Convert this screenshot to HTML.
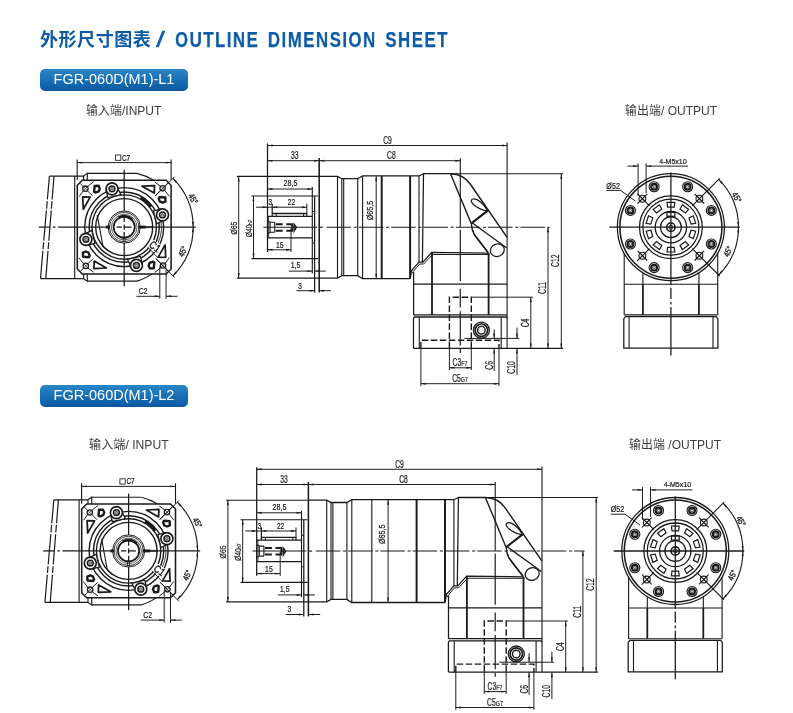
<!DOCTYPE html>
<html lang="zh"><head><meta charset="utf-8"><title>外形尺寸图表 / OUTLINE DIMENSION SHEET</title>
<style>
html,body{margin:0;padding:0;background:#fff}
body{width:793px;height:713px;position:relative;overflow:hidden;font-family:"Liberation Sans","Noto Sans CJK SC",sans-serif}
.title{position:absolute;left:0;top:0;margin:0;font-weight:bold;color:#0b5aa4;white-space:nowrap;font-size:18px;line-height:24px}
.title span{position:absolute;top:27px;white-space:nowrap}
.title .cn{left:40px;top:27.5px;font-size:18px;letter-spacing:0.55px}
.title .sl{left:155.6px;font-size:22.1px;top:27.9px;transform-origin:0 50%;transform:scaleX(1.45);font-weight:normal;-webkit-text-stroke:0.3px #0b5aa4}
.title .en{left:175.1px;top:27.8px;font-size:22.1px;letter-spacing:2.0px;word-spacing:3.2px;transform-origin:0 50%;transform:scaleX(0.76);-webkit-text-stroke:0.25px #0b5aa4}
.badge{position:absolute;left:39.6px;width:148px;height:21.6px;border-radius:5px;background:linear-gradient(#2a86c6,#1f79bb 30%,#0c5da6 90%,#0a5596);color:#fff;font-size:14.5px;line-height:21.4px;text-align:center}
.lbl,.title span,.badge{will-change:transform}
.lbl{position:absolute;font-size:12px;line-height:14px;color:#3c3c3c;white-space:nowrap}
</style></head><body>
<h1 class="title"><span class="cn">外形尺寸图表</span><span class="sl">/</span><span class="en">OUTLINE DIMENSION SHEET</span></h1>
<div class="badge" style="top:69.4px">FGR-060D(M1)-L1</div>
<div class="badge" style="top:384.6px">FGR-060D(M1)-L2</div>
<div class="lbl" style="left:86px;top:104px">输入端/INPUT</div>
<div class="lbl" style="left:624.5px;top:104px">输出端/ OUTPUT</div>
<div class="lbl" style="left:88.8px;top:437.8px;font-size:12.15px">输入端/ INPUT</div>
<div class="lbl" style="left:629px;top:437.6px">输出端 /OUTPUT</div>
<svg width="793" height="713" viewBox="0 0 793 713" style="position:absolute;left:0;top:0;will-change:transform" fill="none" stroke="#1a1a1a" font-family="'Liberation Sans', sans-serif">
<g><line x1="49.4" y1="176.1" x2="83.6" y2="176.1" stroke-width="1.12"/><line x1="40.5" y1="278.6" x2="83.6" y2="278.6" stroke-width="1.12"/><line x1="74.7" y1="176" x2="74.7" y2="278.5" stroke-width="1.12"/><line x1="49.4" y1="176.1" x2="40.5" y2="278.6" stroke-width="1.19" stroke-dasharray="23.4 1.7 7.6 1.7 30.4 1.7 6.8 1.7 40"/><line x1="54" y1="176.1" x2="45.8" y2="278.6" stroke-width="1.19" stroke-dasharray="23.4 1.7 7.6 1.7 30.4 1.7 6.8 1.7 40"/><line x1="87.3" y1="173.4" x2="136.98" y2="173.4" stroke-width="1.12"/><path d="M136.98,173.4 A55.2,55.2 0 0 1 153.47,180.3" stroke-width="1.12" fill="none"/><line x1="87.3" y1="281.1" x2="136.98" y2="281.1" stroke-width="1.12"/><path d="M136.98,281.1 A55.2,55.2 0 0 0 156.47,270.6" stroke-width="1.12" fill="none"/><path d="M83.6,180.2 L83.6,176.1 L87.3,173.4 L87.3,180.2" stroke-width="1.12" fill="none"/><path d="M83.6,274.2 L83.6,278.6 L87.3,281.1 L87.3,274.2" stroke-width="1.12" fill="none"/><path d="M82.3,180.2 L166.1,180.2 L171.1,185.2 L171.1,269 L166.1,274 L82.3,274 L77.3,269 L77.3,185.2 Z" stroke-width="1.54" fill="#fff"/><circle cx="124.2" cy="227.1" r="39.5" stroke-width="1.4" fill="none"/><circle cx="124.2" cy="227.1" r="35.1" stroke-width="1.4" fill="none"/><circle cx="124.2" cy="227.1" r="32.2" stroke-width="1.4" fill="none"/><circle cx="124.2" cy="227.1" r="28.5" stroke-width="1.4" fill="none"/><path d="M140.54,197.63 A33.7,33.7 0 0 1 151.11,206.82" stroke-width="2.52" fill="none"/><path d="M161.14,221.91 A37.3,37.3 0 0 1 153.59,250.06" stroke-width="0.84" fill="none"/><g transform="rotate(0 124.2 227.1)"><circle cx="85.4" cy="188.7" r="2.7" stroke-width="1.26" fill="none"/><line x1="83.5" y1="186.8" x2="87.3" y2="190.6" stroke-width="0.7"/><line x1="83.5" y1="190.6" x2="87.3" y2="186.8" stroke-width="0.7"/><line x1="80" y1="183.3" x2="83.2" y2="186.5" stroke-width="0.98"/><line x1="87.6" y1="190.9" x2="92.6" y2="195.9" stroke-width="0.98"/><line x1="79.2" y1="196.5" x2="83.2" y2="190.9" stroke-width="0.98"/><line x1="87.6" y1="186.5" x2="93.6" y2="181.7" stroke-width="0.98"/><path d="M94.6,186 L98.6,185.8 L99.8,188.6 L98.8,191.4 L95.4,192.6 L94.1,191.8 Z" stroke-width="2.38" fill="none" stroke-linejoin="round"/><path d="M82.7,196.8 L90.2,197.1 L83.3,209.3 Z" stroke-width="1.75" fill="none" stroke-linejoin="round"/><path d="M106.2,190.8 L108,197.8 L120.9,194.7 L118.2,189.3 Z" stroke-width="1.26" fill="#fff"/><circle cx="112" cy="188.8" r="6" stroke-width="1.68" fill="#fff"/><circle cx="112" cy="188.8" r="2.9" stroke-width="1.54" fill="none"/><circle cx="112" cy="188.8" r="1.3" stroke-width="0.56" fill="#aaa"/></g><g transform="rotate(90 124.2 227.1)"><circle cx="85.4" cy="188.7" r="2.7" stroke-width="1.26" fill="none"/><line x1="83.5" y1="186.8" x2="87.3" y2="190.6" stroke-width="0.7"/><line x1="83.5" y1="190.6" x2="87.3" y2="186.8" stroke-width="0.7"/><line x1="80" y1="183.3" x2="83.2" y2="186.5" stroke-width="0.98"/><line x1="87.6" y1="190.9" x2="92.6" y2="195.9" stroke-width="0.98"/><line x1="79.2" y1="196.5" x2="83.2" y2="190.9" stroke-width="0.98"/><line x1="87.6" y1="186.5" x2="93.6" y2="181.7" stroke-width="0.98"/><path d="M94.6,186 L98.6,185.8 L99.8,188.6 L98.8,191.4 L95.4,192.6 L94.1,191.8 Z" stroke-width="2.38" fill="none" stroke-linejoin="round"/><path d="M82.7,196.8 L90.2,197.1 L83.3,209.3 Z" stroke-width="1.75" fill="none" stroke-linejoin="round"/><path d="M106.2,190.8 L108,197.8 L120.9,194.7 L118.2,189.3 Z" stroke-width="1.26" fill="#fff"/><circle cx="112" cy="188.8" r="6" stroke-width="1.68" fill="#fff"/><circle cx="112" cy="188.8" r="2.9" stroke-width="1.54" fill="none"/><circle cx="112" cy="188.8" r="1.3" stroke-width="0.56" fill="#aaa"/></g><g transform="rotate(180 124.2 227.1)"><circle cx="85.4" cy="188.7" r="2.7" stroke-width="1.26" fill="none"/><line x1="83.5" y1="186.8" x2="87.3" y2="190.6" stroke-width="0.7"/><line x1="83.5" y1="190.6" x2="87.3" y2="186.8" stroke-width="0.7"/><line x1="80" y1="183.3" x2="83.2" y2="186.5" stroke-width="0.98"/><line x1="87.6" y1="190.9" x2="92.6" y2="195.9" stroke-width="0.98"/><line x1="79.2" y1="196.5" x2="83.2" y2="190.9" stroke-width="0.98"/><line x1="87.6" y1="186.5" x2="93.6" y2="181.7" stroke-width="0.98"/><path d="M94.6,186 L98.6,185.8 L99.8,188.6 L98.8,191.4 L95.4,192.6 L94.1,191.8 Z" stroke-width="2.38" fill="none" stroke-linejoin="round"/><path d="M82.7,196.8 L90.2,197.1 L83.3,209.3 Z" stroke-width="1.75" fill="none" stroke-linejoin="round"/><path d="M106.2,190.8 L108,197.8 L120.9,194.7 L118.2,189.3 Z" stroke-width="1.26" fill="#fff"/><circle cx="112" cy="188.8" r="6" stroke-width="1.68" fill="#fff"/><circle cx="112" cy="188.8" r="2.9" stroke-width="1.54" fill="none"/><circle cx="112" cy="188.8" r="1.3" stroke-width="0.56" fill="#aaa"/></g><g transform="rotate(270 124.2 227.1)"><circle cx="85.4" cy="188.7" r="2.7" stroke-width="1.26" fill="none"/><line x1="83.5" y1="186.8" x2="87.3" y2="190.6" stroke-width="0.7"/><line x1="83.5" y1="190.6" x2="87.3" y2="186.8" stroke-width="0.7"/><line x1="80" y1="183.3" x2="83.2" y2="186.5" stroke-width="0.98"/><line x1="87.6" y1="190.9" x2="92.6" y2="195.9" stroke-width="0.98"/><line x1="79.2" y1="196.5" x2="83.2" y2="190.9" stroke-width="0.98"/><line x1="87.6" y1="186.5" x2="93.6" y2="181.7" stroke-width="0.98"/><path d="M94.6,186 L98.6,185.8 L99.8,188.6 L98.8,191.4 L95.4,192.6 L94.1,191.8 Z" stroke-width="2.38" fill="none" stroke-linejoin="round"/><path d="M82.7,196.8 L90.2,197.1 L83.3,209.3 Z" stroke-width="1.75" fill="none" stroke-linejoin="round"/><path d="M106.2,190.8 L108,197.8 L120.9,194.7 L118.2,189.3 Z" stroke-width="1.26" fill="#fff"/><circle cx="112" cy="188.8" r="6" stroke-width="1.68" fill="#fff"/><circle cx="112" cy="188.8" r="2.9" stroke-width="1.54" fill="none"/><circle cx="112" cy="188.8" r="1.3" stroke-width="0.56" fill="#aaa"/></g><path d="M97.2,215.2 L103,246.5 L108.2,250.9" stroke-width="1.12" fill="none"/><circle cx="124.2" cy="227.1" r="16.1" stroke-width="0.98" fill="#fff"/><circle cx="124.2" cy="227.1" r="14.7" stroke-width="0.84" fill="none"/><circle cx="124.2" cy="227.1" r="12.8" stroke-width="0.7" fill="none"/><circle cx="124.2" cy="227.1" r="10.6" stroke-width="1.75" fill="none"/><path d="M118.42,217.86 A10.9,10.9 0 0 1 132.3,219.81" stroke-width="2.66" fill="none"/><line x1="138.4" y1="227.1" x2="145.6" y2="227.1" stroke-width="2.94"/><line x1="145.6" y1="226.55" x2="152.6" y2="226.55" stroke-width="0.7"/><line x1="145.6" y1="227.65" x2="152.6" y2="227.65" stroke-width="0.7"/><line x1="106" y1="227.1" x2="110" y2="227.1" stroke-width="2.94"/><rect x="123.2" y="238.3" width="2" height="3.2" stroke-width="0.84" fill="none"/><line x1="38.8" y1="227.1" x2="50.1" y2="227.1" stroke-width="1.26"/><line x1="52.9" y1="227.1" x2="55.4" y2="227.1" stroke-width="1.26"/><line x1="58" y1="227.1" x2="109" y2="227.1" stroke-width="1.26"/><line x1="116.5" y1="227.1" x2="121.9" y2="227.1" stroke-width="1.26"/><line x1="124.5" y1="227.1" x2="131.5" y2="227.1" stroke-width="1.26"/><line x1="138.4" y1="227.1" x2="195.8" y2="227.1" stroke-width="1.26"/><line x1="124.2" y1="169.8" x2="124.2" y2="211" stroke-width="1.26"/><line x1="124.2" y1="216.5" x2="124.2" y2="222" stroke-width="1.26"/><line x1="124.2" y1="224.6" x2="124.2" y2="229.6" stroke-width="1.26"/><line x1="124.2" y1="232" x2="124.2" y2="238" stroke-width="1.26"/><line x1="124.2" y1="243" x2="124.2" y2="286.3" stroke-width="1.26"/><line x1="77.2" y1="159.5" x2="77.2" y2="180" stroke-width="1.12"/><line x1="171.1" y1="159.5" x2="171.1" y2="180" stroke-width="1.12"/><line x1="77.2" y1="162.6" x2="171.1" y2="162.6" stroke-width="0.98"/><path d="M77.2,162.6 L82.2,161.65 L82.2,163.55 Z" fill="#1a1a1a" stroke="none"/><path d="M171.1,162.6 L166.1,163.55 L166.1,161.65 Z" fill="#1a1a1a" stroke="none"/><rect x="115.5" y="155" width="5.3" height="5.3" stroke-width="0.84" fill="none"/><text transform="translate(122 160.5) scale(0.76 1)" font-size="8.4" text-anchor="start" fill="#1a1a1a" stroke="#1a1a1a" stroke-width="0.22">C7</text><path d="M172.99,178.31 A69,69 0 0 1 172.99,275.89" stroke-width="1.12" fill="none"/><line x1="155.2" y1="196.1" x2="174.7" y2="176.6" stroke-width="0.98"/><line x1="156.2" y1="259.1" x2="174.7" y2="277.6" stroke-width="0.98"/><path d="M172.99,178.31 L176.99,181.46 L175.55,182.71 Z" fill="#1a1a1a" stroke="none"/><path d="M172.99,275.89 L175.55,271.49 L176.99,272.74 Z" fill="#1a1a1a" stroke="none"/><path d="M193.2,226.9 L191.9,221.98 L193.8,221.85 Z" fill="#1a1a1a" stroke="none"/><path d="M193.2,227.3 L193.8,232.35 L191.9,232.22 Z" fill="#1a1a1a" stroke="none"/><text transform="translate(193 198.9) rotate(60) scale(0.798 1)" font-size="8.61" text-anchor="middle" fill="#1a1a1a" stroke="#1a1a1a" stroke-width="0.32" dy="2.9">45°</text><text transform="translate(182.8 251.5) rotate(-65) scale(0.798 1)" font-size="8.61" text-anchor="middle" fill="#1a1a1a" stroke="#1a1a1a" stroke-width="0.32" dy="2.9">45°</text><rect x="-5.6" y="-4.6" width="11.2" height="9.2" fill="#fff" stroke="none" transform="translate(155 246.6) rotate(35)"/><text transform="translate(155 246.6) rotate(35) scale(0.817 1)" font-size="10.71" text-anchor="middle" fill="#1a1a1a" stroke="#1a1a1a" stroke-width="0.4" dy="3.6">C1</text><line x1="147.4" y1="246.8" x2="158.2" y2="258.1" stroke-width="0.84"/><line x1="159.8" y1="266.6" x2="159.8" y2="298.8" stroke-width="0.98"/><line x1="166.1" y1="269" x2="166.1" y2="298.8" stroke-width="0.98"/><line x1="136.4" y1="296.3" x2="159.8" y2="296.3" stroke-width="0.98"/><path d="M159.8,296.3 L154.8,297.25 L154.8,295.35 Z" fill="#1a1a1a" stroke="none"/><line x1="166.1" y1="296.3" x2="177.5" y2="296.3" stroke-width="0.98"/><path d="M166.1,296.3 L171.1,295.35 L171.1,297.25 Z" fill="#1a1a1a" stroke="none"/><text transform="translate(143.2 294.4) scale(0.798 1)" font-size="8.61" text-anchor="middle" fill="#1a1a1a" stroke="#1a1a1a" stroke-width="0.22">C2</text></g>
<g><line x1="263.3" y1="227.25" x2="317.2" y2="227.25" stroke-width="1.12"/><line x1="319.5" y1="227.25" x2="322.9" y2="227.25" stroke-width="1.12"/><line x1="326.6" y1="227.25" x2="549.7" y2="227.25" stroke-width="1.12" stroke-dasharray="24.5 2.6 3.2 2"/><line x1="267.5" y1="143.4" x2="267.5" y2="252" stroke-width="1.26"/><line x1="267.5" y1="145.5" x2="507.1" y2="145.5" stroke-width="0.98"/><path d="M267.5,145.5 L272.5,144.55 L272.5,146.45 Z" fill="#1a1a1a" stroke="none"/><path d="M507.1,145.5 L502.1,146.45 L502.1,144.55 Z" fill="#1a1a1a" stroke="none"/><text transform="translate(387.5 144) scale(0.665 1)" font-size="10.19" text-anchor="middle" fill="#1a1a1a" stroke="#1a1a1a" stroke-width="0.22">C9</text><line x1="267.5" y1="160.7" x2="319.2" y2="160.7" stroke-width="0.98"/><path d="M267.5,160.7 L272.5,159.75 L272.5,161.65 Z" fill="#1a1a1a" stroke="none"/><path d="M319.2,160.7 L314.2,161.65 L314.2,159.75 Z" fill="#1a1a1a" stroke="none"/><text transform="translate(294.7 159) scale(0.665 1)" font-size="10.19" text-anchor="middle" fill="#1a1a1a" stroke="#1a1a1a" stroke-width="0.22">33</text><line x1="319.2" y1="160.7" x2="460.3" y2="160.7" stroke-width="0.98"/><path d="M319.2,160.7 L324.2,159.75 L324.2,161.65 Z" fill="#1a1a1a" stroke="none"/><path d="M460.3,160.7 L455.3,161.65 L455.3,159.75 Z" fill="#1a1a1a" stroke="none"/><text transform="translate(391.4 159) scale(0.665 1)" font-size="10.19" text-anchor="middle" fill="#1a1a1a" stroke="#1a1a1a" stroke-width="0.22">C8</text><line x1="319.2" y1="158" x2="319.2" y2="292.6" stroke-width="1.54"/><line x1="460.3" y1="158.3" x2="460.3" y2="227" stroke-width="1.12"/><line x1="460.3" y1="229.8" x2="460.3" y2="280.9" stroke-width="1.19"/><line x1="460.3" y1="288.7" x2="460.3" y2="307.4" stroke-width="1.19"/><line x1="460.3" y1="311.3" x2="460.3" y2="345.5" stroke-width="1.19"/><line x1="460.3" y1="349" x2="460.3" y2="353" stroke-width="1.19"/><line x1="507.1" y1="142.6" x2="507.1" y2="348.4" stroke-width="1.12"/><line x1="236.9" y1="176.4" x2="319.2" y2="176.4" stroke-width="1.12"/><line x1="236.9" y1="278.1" x2="319.2" y2="278.1" stroke-width="1.12"/><line x1="238.7" y1="176.4" x2="238.7" y2="278.1" stroke-width="0.98"/><path d="M238.7,176.4 L239.65,181.4 L237.75,181.4 Z" fill="#1a1a1a" stroke="none"/><path d="M238.7,278.1 L237.75,273.1 L239.65,273.1 Z" fill="#1a1a1a" stroke="none"/><text transform="translate(236.8 228.1) rotate(-90) scale(0.798 1)" font-size="8.61" text-anchor="middle" fill="#1a1a1a" stroke="#1a1a1a" stroke-width="0.22">Ø65</text><line x1="251.4" y1="196" x2="318.3" y2="196" stroke-width="1.12"/><line x1="251.4" y1="258.6" x2="318.3" y2="258.6" stroke-width="1.12"/><line x1="253.5" y1="196" x2="253.5" y2="258.6" stroke-width="0.98"/><path d="M253.5,196 L254.45,201 L252.55,201 Z" fill="#1a1a1a" stroke="none"/><path d="M253.5,258.6 L252.55,253.6 L254.45,253.6 Z" fill="#1a1a1a" stroke="none"/><text transform="translate(251.6 237) rotate(-90) scale(0.76 1)" font-size="8.61" text-anchor="start" fill="#1a1a1a" stroke="#1a1a1a" stroke-width="0.22">Ø40<tspan font-size="6">h7</tspan></text><line x1="267.5" y1="189" x2="312.3" y2="189" stroke-width="0.98"/><path d="M267.5,189 L272.5,188.05 L272.5,189.95 Z" fill="#1a1a1a" stroke="none"/><path d="M312.3,189 L307.3,189.95 L307.3,188.05 Z" fill="#1a1a1a" stroke="none"/><text transform="translate(290.4 186) scale(0.836 1)" font-size="8.61" text-anchor="middle" fill="#1a1a1a" stroke="#1a1a1a" stroke-width="0.22">28,5</text><line x1="312.3" y1="186.9" x2="312.3" y2="273.3" stroke-width="1.12"/><line x1="256" y1="207.2" x2="267.5" y2="207.2" stroke-width="0.98"/><path d="M267.5,207.2 L262.5,208.15 L262.5,206.25 Z" fill="#1a1a1a" stroke="none"/><line x1="272.2" y1="207.2" x2="306.8" y2="207.2" stroke-width="0.98"/><path d="M272.2,207.2 L277.2,206.25 L277.2,208.15 Z" fill="#1a1a1a" stroke="none"/><path d="M306.8,207.2 L301.8,208.15 L301.8,206.25 Z" fill="#1a1a1a" stroke="none"/><line x1="267.5" y1="207.2" x2="272.2" y2="207.2" stroke-width="0.98"/><text transform="translate(270.4 205.3) scale(0.76 1)" font-size="8.61" text-anchor="middle" fill="#1a1a1a" stroke="#1a1a1a" stroke-width="0.22">3</text><text transform="translate(291.4 205.3) scale(0.76 1)" font-size="8.61" text-anchor="middle" fill="#1a1a1a" stroke="#1a1a1a" stroke-width="0.22">22</text><line x1="272.2" y1="203.7" x2="272.2" y2="216.3" stroke-width="1.26"/><line x1="306.8" y1="203.7" x2="306.8" y2="213.5" stroke-width="0.98"/><line x1="267.5" y1="249.8" x2="291" y2="249.8" stroke-width="0.98"/><path d="M267.5,249.8 L272.5,248.85 L272.5,250.75 Z" fill="#1a1a1a" stroke="none"/><path d="M291,249.8 L286,250.75 L286,248.85 Z" fill="#1a1a1a" stroke="none"/><text transform="translate(279.7 247.7) scale(0.798 1)" font-size="8.61" text-anchor="middle" fill="#1a1a1a" stroke="#1a1a1a" stroke-width="0.22">15</text><line x1="291" y1="228" x2="291" y2="252" stroke-width="0.98"/><line x1="288.8" y1="271.1" x2="312.3" y2="271.1" stroke-width="0.98"/><path d="M312.3,271.1 L307.3,272.05 L307.3,270.15 Z" fill="#1a1a1a" stroke="none"/><line x1="314.6" y1="271.1" x2="325.7" y2="271.1" stroke-width="0.98"/><path d="M314.6,271.1 L319.6,270.15 L319.6,272.05 Z" fill="#1a1a1a" stroke="none"/><text transform="translate(295.5 268.2) scale(0.76 1)" font-size="9.03" text-anchor="middle" fill="#1a1a1a" stroke="#1a1a1a" stroke-width="0.22">1,5</text><line x1="296.5" y1="290.7" x2="314.6" y2="290.7" stroke-width="0.98"/><path d="M314.6,290.7 L309.6,291.65 L309.6,289.75 Z" fill="#1a1a1a" stroke="none"/><line x1="319.2" y1="290.7" x2="331" y2="290.7" stroke-width="0.98"/><path d="M319.2,290.7 L324.2,289.75 L324.2,291.65 Z" fill="#1a1a1a" stroke="none"/><text transform="translate(300.1 288.5) scale(0.76 1)" font-size="8.61" text-anchor="middle" fill="#1a1a1a" stroke="#1a1a1a" stroke-width="0.22">3</text><line x1="314.6" y1="196" x2="314.6" y2="292.6" stroke-width="1.26"/><path d="M312.3,216.3 L267.5,216.3 M267.5,237.9 L312.3,237.9" stroke-width="1.26" fill="none"/><path d="M272.2,213.5 L306.8,213.5 L306.8,216.3" stroke-width="1.26" fill="none"/><line x1="276.2" y1="213.5" x2="276.2" y2="216.3" stroke-width="0.98"/><line x1="303.6" y1="213.5" x2="303.6" y2="216.3" stroke-width="0.98"/><line x1="268.7" y1="216.3" x2="268.7" y2="237.9" stroke-width="0.84"/><path d="M312.3,211.5 L314.6,211.5 M312.3,243 L314.6,243" stroke-width="0.98" fill="none"/><path d="M267.5,220.8 L270.1,222.3 L274.7,222.3 M267.5,233.8 L270.1,232.3 L274.7,232.3 M270.1,222.3 L270.1,232.3 M274.7,222.3 L274.7,232.3" stroke-width="1.12" fill="none"/><path d="M275.7,224.3 L282.7,224.3 M286.3,224.3 L292.2,224.3 L292.2,230.8 L286.3,230.8 M275.7,230.8 L282.7,230.8" stroke-width="1.96" fill="none"/><path d="M294.2,224.4 L296.4,227.25 L294.2,231 Z" stroke-width="1.4" fill="none"/><path d="M319.2,176.4 L337.5,176.4 L341.8,178.7 L357.7,178.7 L362.6,175.9 L419,175.9" stroke-width="1.26" fill="none"/><path d="M319.2,278.1 L337.5,278.1 L341.8,275.6 L357.7,275.6 L362.6,278.7 L410.1,278.7" stroke-width="1.26" fill="none"/><line x1="337.5" y1="176.4" x2="337.5" y2="278.1" stroke-width="1.12"/><line x1="341.8" y1="178.7" x2="341.8" y2="275.6" stroke-width="1.12"/><line x1="343.7" y1="178.7" x2="343.7" y2="275.6" stroke-width="1.12"/><line x1="357.7" y1="178.7" x2="357.7" y2="275.6" stroke-width="1.12"/><line x1="362.6" y1="175.9" x2="362.6" y2="278.7" stroke-width="1.12"/><line x1="376.2" y1="175.9" x2="376.2" y2="278.7" stroke-width="0.98"/><path d="M376.2,175.9 L377.15,180.9 L375.25,180.9 Z" fill="#1a1a1a" stroke="none"/><path d="M376.2,278.7 L375.25,273.7 L377.15,273.7 Z" fill="#1a1a1a" stroke="none"/><text transform="translate(373.2 210.5) rotate(-90) scale(0.798 1)" font-size="9.03" text-anchor="middle" fill="#1a1a1a" stroke="#1a1a1a" stroke-width="0.22">Ø65,5</text><line x1="381.7" y1="175.9" x2="381.7" y2="278.7" stroke-width="1.96"/><line x1="410.1" y1="175.9" x2="410.1" y2="278.7" stroke-width="1.96"/><line x1="419" y1="175.9" x2="419" y2="262.1" stroke-width="1.12"/><line x1="419" y1="175.9" x2="423.5" y2="173.7" stroke-width="1.12"/><path d="M422.4,262.1 L423.5,173.7 L450.5,173.7" stroke-width="1.26" fill="none"/><line x1="450.5" y1="173.7" x2="563" y2="173.7" stroke-width="1.12"/><path d="M450.5,173.7 Q463.5,174.2 470.2,184 L507.1,237.3" stroke-width="1.4" fill="none"/><path d="M450.5,173.7 L471.4,224 Q471.6,230 474.4,234.5 L488.4,252.7" stroke-width="1.4" fill="none"/><path d="M472.8,230.5 Q473.3,234 476.5,238.3 L489.2,254.5" stroke-width="0.98" fill="none"/><path d="M487.7,210.6 C484,204 477,198.2 473,199 C469.6,200 471.5,203.5 476,206.5 C480,209 485,211.2 487.7,210.6 Z" stroke-width="1.26" fill="none"/><line x1="487.7" y1="210.6" x2="472" y2="222.8" stroke-width="2.1" stroke-linecap="round"/><line x1="472" y1="222.8" x2="506.5" y2="247.8" stroke-width="1.26"/><ellipse cx="497.3" cy="250.2" rx="7.1" ry="6.2" stroke-width="1.26" fill="#fff" transform="rotate(-20 497.3 250.2)"/><path d="M410.1,278.7 L411.6,270.5 L419,262.1 L422.9,262.1 L431.7,252.4 L488.4,253.1" stroke-width="1.26" fill="none"/><path d="M412.4,273.3 L413.2,271.6 L419.6,264 L423.7,264 L432.6,254.5 L489.2,254.5" stroke-width="0.98" fill="none"/><line x1="413.6" y1="272" x2="413.6" y2="315.1" stroke-width="1.26"/><line x1="413.6" y1="284.1" x2="507.1" y2="284.1" stroke-width="1.26"/><line x1="432" y1="253" x2="432" y2="315.1" stroke-width="1.82"/><line x1="488.6" y1="253" x2="488.6" y2="315.1" stroke-width="1.82"/><line x1="413.6" y1="314.9" x2="507.1" y2="314.9" stroke-width="1.26"/><path d="M413.5,348.3 L413.5,318.3 L414.4,317.0 L506.2,317.0 L507.1,318.3" stroke-width="1.26" fill="none"/><line x1="419.3" y1="317.2" x2="419.3" y2="348.4" stroke-width="1.12"/><line x1="501.2" y1="317.2" x2="501.2" y2="348.4" stroke-width="1.12"/><line x1="413.5" y1="348.3" x2="563" y2="348.3" stroke-width="1.26"/><path d="M449.4,348 L449.4,297.2 L471.3,297.2 L471.3,348" stroke-width="1.4" fill="none" stroke-dasharray="6.5 2.5"/><path d="M420.9,348.4 L420.9,340.3 L499,340.3 L499,348.4" stroke-width="1.4" fill="none" stroke-dasharray="6.5 2.5"/><line x1="449.4" y1="348" x2="449.4" y2="370" stroke-width="0.98"/><line x1="471.3" y1="348" x2="471.3" y2="370" stroke-width="0.98"/><line x1="420.9" y1="348" x2="420.9" y2="386" stroke-width="0.98"/><line x1="499" y1="348" x2="499" y2="386" stroke-width="0.98"/><line x1="449.4" y1="367.8" x2="471.3" y2="367.8" stroke-width="0.98"/><path d="M449.4,367.8 L454.4,366.85 L454.4,368.75 Z" fill="#1a1a1a" stroke="none"/><path d="M471.3,367.8 L466.3,368.75 L466.3,366.85 Z" fill="#1a1a1a" stroke="none"/><text transform="translate(452.6 366.3) scale(0.665 1)" font-size="10.19" text-anchor="start" fill="#1a1a1a" stroke="#1a1a1a" stroke-width="0.22">C3<tspan font-size="8">F7</tspan></text><line x1="420.9" y1="383.7" x2="499" y2="383.7" stroke-width="0.98"/><path d="M420.9,383.7 L425.9,382.75 L425.9,384.65 Z" fill="#1a1a1a" stroke="none"/><path d="M499,383.7 L494,384.65 L494,382.75 Z" fill="#1a1a1a" stroke="none"/><text transform="translate(452.2 382) scale(0.665 1)" font-size="10.19" text-anchor="start" fill="#1a1a1a" stroke="#1a1a1a" stroke-width="0.22">C5<tspan font-size="8">G7</tspan></text><circle cx="481.4" cy="330.2" r="8" stroke-width="1.26" fill="#fff"/><circle cx="481.4" cy="330.2" r="6.2" stroke-width="1.68" fill="none"/><circle cx="481.4" cy="330.2" r="3.8" stroke-width="1.4" fill="none"/><line x1="471.3" y1="297.2" x2="533" y2="297.2" stroke-width="0.98"/><line x1="530.8" y1="297.2" x2="530.8" y2="348.4" stroke-width="0.98"/><path d="M530.8,297.2 L531.75,302.2 L529.85,302.2 Z" fill="#1a1a1a" stroke="none"/><path d="M530.8,348.4 L529.85,343.4 L531.75,343.4 Z" fill="#1a1a1a" stroke="none"/><text transform="translate(529.4 323) rotate(-90) scale(0.665 1)" font-size="10.19" text-anchor="middle" fill="#1a1a1a" stroke="#1a1a1a" stroke-width="0.22">C4</text><line x1="464.5" y1="338.4" x2="519.2" y2="338.4" stroke-width="0.98"/><line x1="494.2" y1="329.4" x2="494.2" y2="338.4" stroke-width="0.98"/><path d="M494.2,338.4 L493.25,333.4 L495.15,333.4 Z" fill="#1a1a1a" stroke="none"/><line x1="494.2" y1="348.4" x2="494.2" y2="371" stroke-width="0.98"/><path d="M494.2,348.4 L495.15,353.4 L493.25,353.4 Z" fill="#1a1a1a" stroke="none"/><text transform="translate(493 365.4) rotate(-90) scale(0.665 1)" font-size="10.19" text-anchor="middle" fill="#1a1a1a" stroke="#1a1a1a" stroke-width="0.22">C6</text><line x1="517" y1="327.7" x2="517" y2="338.4" stroke-width="0.98"/><path d="M517,338.4 L516.05,333.4 L517.95,333.4 Z" fill="#1a1a1a" stroke="none"/><line x1="517" y1="348.4" x2="517" y2="375.3" stroke-width="0.98"/><path d="M517,348.4 L517.95,353.4 L516.05,353.4 Z" fill="#1a1a1a" stroke="none"/><text transform="translate(515 367.5) rotate(-90) scale(0.665 1)" font-size="10.19" text-anchor="middle" fill="#1a1a1a" stroke="#1a1a1a" stroke-width="0.22">C10</text><line x1="548" y1="227.25" x2="548" y2="348.4" stroke-width="0.98"/><path d="M548,227.25 L548.95,232.25 L547.05,232.25 Z" fill="#1a1a1a" stroke="none"/><path d="M548,348.4 L547.05,343.4 L548.95,343.4 Z" fill="#1a1a1a" stroke="none"/><text transform="translate(545.7 288) rotate(-90) scale(0.665 1)" font-size="10.19" text-anchor="middle" fill="#1a1a1a" stroke="#1a1a1a" stroke-width="0.22">C11</text><line x1="561.3" y1="173.7" x2="561.3" y2="348.4" stroke-width="0.98"/><path d="M561.3,173.7 L562.25,178.7 L560.35,178.7 Z" fill="#1a1a1a" stroke="none"/><path d="M561.3,348.4 L560.35,343.4 L562.25,343.4 Z" fill="#1a1a1a" stroke="none"/><text transform="translate(558.8 260.8) rotate(-90) scale(0.665 1)" font-size="10.19" text-anchor="middle" fill="#1a1a1a" stroke="#1a1a1a" stroke-width="0.22">C12</text></g>
<g><line x1="624.2" y1="250" x2="624.2" y2="314.9" stroke-width="1.12"/><line x1="717.7" y1="250" x2="717.7" y2="314.9" stroke-width="1.12"/><line x1="642.9" y1="268" x2="642.9" y2="284.2" stroke-width="1.12"/><line x1="698.9" y1="268" x2="698.9" y2="284.2" stroke-width="1.12"/><line x1="642.9" y1="284.2" x2="642.9" y2="314.9" stroke-width="1.75"/><line x1="698.9" y1="284.2" x2="698.9" y2="314.9" stroke-width="1.75"/><line x1="624.2" y1="284.2" x2="717.7" y2="284.2" stroke-width="1.12"/><line x1="624.2" y1="314.9" x2="717.7" y2="314.9" stroke-width="1.12"/><path d="M623.8,348.1 L623.8,318.6 L625.4,316.6 L716.3,316.6 L717.9,318.6 L717.9,348.1 Z" stroke-width="1.26" fill="none"/><line x1="629.1" y1="316.6" x2="629.1" y2="348.1" stroke-width="1.12"/><line x1="713" y1="316.6" x2="713" y2="348.1" stroke-width="1.12"/><circle cx="670.9" cy="227.2" r="53.5" stroke-width="1.26" fill="#fff"/><circle cx="670.9" cy="227.2" r="51" stroke-width="1.54" fill="none"/><circle cx="670.9" cy="227.2" r="31.4" stroke-width="1.26" fill="none"/><circle cx="670.9" cy="227.2" r="28" stroke-width="1.26" fill="none"/><circle cx="670.9" cy="227.2" r="15.7" stroke-width="1.26" fill="none"/><circle cx="670.9" cy="227.2" r="10.4" stroke-width="1.26" fill="none"/><circle cx="670.9" cy="227.2" r="4.2" stroke-width="1.68" fill="none"/><circle cx="670.9" cy="227.2" r="2" stroke-width="0.98" fill="none"/><rect x="667" y="212.3" width="7.8" height="4" stroke-width="1.26" fill="none"/><path d="M-3.9,-2.4 L3.9,-2.4 L3.3,2.3 L-3.3,2.3 Z" transform="translate(670.9 204.8) rotate(0)" stroke-width="1.19"/><path d="M-3.9,-2.4 L3.9,-2.4 L3.3,2.3 L-3.3,2.3 Z" transform="translate(684.07 209.08) rotate(36)" stroke-width="1.19"/><path d="M-3.9,-2.4 L3.9,-2.4 L3.3,2.3 L-3.3,2.3 Z" transform="translate(692.2 220.28) rotate(72)" stroke-width="1.19"/><path d="M-3.9,-2.4 L3.9,-2.4 L3.3,2.3 L-3.3,2.3 Z" transform="translate(692.2 234.12) rotate(108)" stroke-width="1.19"/><path d="M-3.9,-2.4 L3.9,-2.4 L3.3,2.3 L-3.3,2.3 Z" transform="translate(684.07 245.32) rotate(144)" stroke-width="1.19"/><path d="M-3.9,-2.4 L3.9,-2.4 L3.3,2.3 L-3.3,2.3 Z" transform="translate(670.9 249.6) rotate(180)" stroke-width="1.19"/><path d="M-3.9,-2.4 L3.9,-2.4 L3.3,2.3 L-3.3,2.3 Z" transform="translate(657.73 245.32) rotate(216)" stroke-width="1.19"/><path d="M-3.9,-2.4 L3.9,-2.4 L3.3,2.3 L-3.3,2.3 Z" transform="translate(649.6 234.12) rotate(252)" stroke-width="1.19"/><path d="M-3.9,-2.4 L3.9,-2.4 L3.3,2.3 L-3.3,2.3 Z" transform="translate(649.6 220.28) rotate(288)" stroke-width="1.19"/><path d="M-3.9,-2.4 L3.9,-2.4 L3.3,2.3 L-3.3,2.3 Z" transform="translate(657.73 209.08) rotate(324)" stroke-width="1.19"/><circle cx="687.66" cy="186.73" r="5" stroke-width="1.12" fill="none"/><circle cx="687.66" cy="186.73" r="2.9" stroke-width="2.1" fill="none"/><circle cx="687.66" cy="186.73" r="1.2" stroke-width="0.7" fill="none"/><circle cx="711.37" cy="210.44" r="5" stroke-width="1.12" fill="none"/><circle cx="711.37" cy="210.44" r="2.9" stroke-width="2.1" fill="none"/><circle cx="711.37" cy="210.44" r="1.2" stroke-width="0.7" fill="none"/><circle cx="711.37" cy="243.96" r="5" stroke-width="1.12" fill="none"/><circle cx="711.37" cy="243.96" r="2.9" stroke-width="2.1" fill="none"/><circle cx="711.37" cy="243.96" r="1.2" stroke-width="0.7" fill="none"/><circle cx="687.66" cy="267.67" r="5" stroke-width="1.12" fill="none"/><circle cx="687.66" cy="267.67" r="2.9" stroke-width="2.1" fill="none"/><circle cx="687.66" cy="267.67" r="1.2" stroke-width="0.7" fill="none"/><circle cx="654.14" cy="267.67" r="5" stroke-width="1.12" fill="none"/><circle cx="654.14" cy="267.67" r="2.9" stroke-width="2.1" fill="none"/><circle cx="654.14" cy="267.67" r="1.2" stroke-width="0.7" fill="none"/><circle cx="630.43" cy="243.96" r="5" stroke-width="1.12" fill="none"/><circle cx="630.43" cy="243.96" r="2.9" stroke-width="2.1" fill="none"/><circle cx="630.43" cy="243.96" r="1.2" stroke-width="0.7" fill="none"/><circle cx="630.43" cy="210.44" r="5" stroke-width="1.12" fill="none"/><circle cx="630.43" cy="210.44" r="2.9" stroke-width="2.1" fill="none"/><circle cx="630.43" cy="210.44" r="1.2" stroke-width="0.7" fill="none"/><circle cx="654.14" cy="186.73" r="5" stroke-width="1.12" fill="none"/><circle cx="654.14" cy="186.73" r="2.9" stroke-width="2.1" fill="none"/><circle cx="654.14" cy="186.73" r="1.2" stroke-width="0.7" fill="none"/><circle cx="699.4" cy="198.7" r="3.4" stroke-width="1.12" fill="none"/><line x1="697.1" y1="196.4" x2="701.7" y2="201" stroke-width="0.84"/><line x1="697.1" y1="201" x2="701.7" y2="196.4" stroke-width="0.84"/><line x1="692.25" y1="205.85" x2="719.69" y2="178.41" stroke-width="1.12"/><line x1="704.2" y1="203.51" x2="694.59" y2="193.9" stroke-width="1.12"/><circle cx="699.4" cy="255.7" r="3.4" stroke-width="1.12" fill="none"/><line x1="697.1" y1="253.4" x2="701.7" y2="258" stroke-width="0.84"/><line x1="697.1" y1="258" x2="701.7" y2="253.4" stroke-width="0.84"/><line x1="692.25" y1="248.55" x2="719.69" y2="275.99" stroke-width="1.12"/><line x1="694.59" y1="260.5" x2="704.2" y2="250.89" stroke-width="1.12"/><circle cx="642.4" cy="255.7" r="3.4" stroke-width="1.12" fill="none"/><line x1="640.1" y1="253.4" x2="644.7" y2="258" stroke-width="0.84"/><line x1="640.1" y1="258" x2="644.7" y2="253.4" stroke-width="0.84"/><line x1="649.55" y1="248.55" x2="637.31" y2="260.79" stroke-width="1.12"/><line x1="637.6" y1="250.89" x2="647.21" y2="260.5" stroke-width="1.12"/><circle cx="642.4" cy="198.7" r="3.4" stroke-width="1.12" fill="none"/><line x1="640.1" y1="196.4" x2="644.7" y2="201" stroke-width="0.84"/><line x1="640.1" y1="201" x2="644.7" y2="196.4" stroke-width="0.84"/><line x1="649.55" y1="205.85" x2="637.31" y2="193.61" stroke-width="1.12"/><line x1="647.21" y1="193.9" x2="637.6" y2="203.51" stroke-width="1.12"/><line x1="609.3" y1="227.2" x2="739.8" y2="227.2" stroke-width="1.26"/><line x1="670.9" y1="172.6" x2="670.9" y2="355.4" stroke-width="1.26" stroke-dasharray="112.4 2.7 11.3 2.8 2.6 2.6 60"/><path d="M718.7,179.4 A67.6,67.6 0 0 1 718.7,275" stroke-width="1.12" fill="none"/><path d="M718.7,179.4 L722.7,182.55 L721.26,183.8 Z" fill="#1a1a1a" stroke="none"/><path d="M718.7,275 L721.26,270.6 L722.7,271.85 Z" fill="#1a1a1a" stroke="none"/><path d="M738.5,227 L737.2,222.08 L739.1,221.95 Z" fill="#1a1a1a" stroke="none"/><path d="M738.5,227.4 L739.1,232.45 L737.2,232.32 Z" fill="#1a1a1a" stroke="none"/><text transform="translate(736.6 197.4) rotate(60) scale(0.798 1)" font-size="8.61" text-anchor="middle" fill="#1a1a1a" stroke="#1a1a1a" stroke-width="0.32" dy="2.9">45°</text><text transform="translate(728 251.5) rotate(-65) scale(0.798 1)" font-size="8.61" text-anchor="middle" fill="#1a1a1a" stroke="#1a1a1a" stroke-width="0.32" dy="2.9">45°</text><text transform="translate(613.1 188.5) scale(0.812 1)" font-size="8.82" text-anchor="middle" fill="#1a1a1a" stroke="#1a1a1a" stroke-width="0.22">Ø52</text><path d="M606.3,190.4 L620.6,190.4 L635.6,201.2" stroke-width="0.98" fill="none"/><text transform="translate(673 163.6) scale(0.883 1)" font-size="7.98" text-anchor="middle" fill="#1a1a1a" stroke="#1a1a1a" stroke-width="0.22">4-M5x10</text><line x1="627.5" y1="166.1" x2="638.1" y2="166.1" stroke-width="0.98"/><path d="M638.1,166.1 L633.1,167.05 L633.1,165.15 Z" fill="#1a1a1a" stroke="none"/><line x1="646.1" y1="166.1" x2="688" y2="166.1" stroke-width="0.98"/><path d="M646.1,166.1 L651.1,165.15 L651.1,167.05 Z" fill="#1a1a1a" stroke="none"/><line x1="638.1" y1="163.4" x2="638.1" y2="196" stroke-width="0.98"/><line x1="646.1" y1="163.4" x2="646.1" y2="193" stroke-width="0.98"/></g>
<g transform="translate(4.4 323.8)"><line x1="49.4" y1="176.1" x2="83.6" y2="176.1" stroke-width="1.12"/><line x1="40.5" y1="278.6" x2="83.6" y2="278.6" stroke-width="1.12"/><line x1="74.7" y1="176" x2="74.7" y2="278.5" stroke-width="1.12"/><line x1="49.4" y1="176.1" x2="40.5" y2="278.6" stroke-width="1.19" stroke-dasharray="23.4 1.7 7.6 1.7 30.4 1.7 6.8 1.7 40"/><line x1="54" y1="176.1" x2="45.8" y2="278.6" stroke-width="1.19" stroke-dasharray="23.4 1.7 7.6 1.7 30.4 1.7 6.8 1.7 40"/><line x1="87.3" y1="173.4" x2="136.98" y2="173.4" stroke-width="1.12"/><path d="M136.98,173.4 A55.2,55.2 0 0 1 153.47,180.3" stroke-width="1.12" fill="none"/><line x1="87.3" y1="281.1" x2="136.98" y2="281.1" stroke-width="1.12"/><path d="M136.98,281.1 A55.2,55.2 0 0 0 156.47,270.6" stroke-width="1.12" fill="none"/><path d="M83.6,180.2 L83.6,176.1 L87.3,173.4 L87.3,180.2" stroke-width="1.12" fill="none"/><path d="M83.6,274.2 L83.6,278.6 L87.3,281.1 L87.3,274.2" stroke-width="1.12" fill="none"/><path d="M82.3,180.2 L166.1,180.2 L171.1,185.2 L171.1,269 L166.1,274 L82.3,274 L77.3,269 L77.3,185.2 Z" stroke-width="1.54" fill="#fff"/><circle cx="124.2" cy="227.1" r="39.5" stroke-width="1.4" fill="none"/><circle cx="124.2" cy="227.1" r="35.1" stroke-width="1.4" fill="none"/><circle cx="124.2" cy="227.1" r="32.2" stroke-width="1.4" fill="none"/><circle cx="124.2" cy="227.1" r="28.5" stroke-width="1.4" fill="none"/><path d="M140.54,197.63 A33.7,33.7 0 0 1 151.11,206.82" stroke-width="2.52" fill="none"/><path d="M161.14,221.91 A37.3,37.3 0 0 1 153.59,250.06" stroke-width="0.84" fill="none"/><g transform="rotate(0 124.2 227.1)"><circle cx="85.4" cy="188.7" r="2.7" stroke-width="1.26" fill="none"/><line x1="83.5" y1="186.8" x2="87.3" y2="190.6" stroke-width="0.7"/><line x1="83.5" y1="190.6" x2="87.3" y2="186.8" stroke-width="0.7"/><line x1="80" y1="183.3" x2="83.2" y2="186.5" stroke-width="0.98"/><line x1="87.6" y1="190.9" x2="92.6" y2="195.9" stroke-width="0.98"/><line x1="79.2" y1="196.5" x2="83.2" y2="190.9" stroke-width="0.98"/><line x1="87.6" y1="186.5" x2="93.6" y2="181.7" stroke-width="0.98"/><path d="M94.6,186 L98.6,185.8 L99.8,188.6 L98.8,191.4 L95.4,192.6 L94.1,191.8 Z" stroke-width="2.38" fill="none" stroke-linejoin="round"/><path d="M82.7,196.8 L90.2,197.1 L83.3,209.3 Z" stroke-width="1.75" fill="none" stroke-linejoin="round"/><path d="M106.2,190.8 L108,197.8 L120.9,194.7 L118.2,189.3 Z" stroke-width="1.26" fill="#fff"/><circle cx="112" cy="188.8" r="6" stroke-width="1.68" fill="#fff"/><circle cx="112" cy="188.8" r="2.9" stroke-width="1.54" fill="none"/><circle cx="112" cy="188.8" r="1.3" stroke-width="0.56" fill="#aaa"/></g><g transform="rotate(90 124.2 227.1)"><circle cx="85.4" cy="188.7" r="2.7" stroke-width="1.26" fill="none"/><line x1="83.5" y1="186.8" x2="87.3" y2="190.6" stroke-width="0.7"/><line x1="83.5" y1="190.6" x2="87.3" y2="186.8" stroke-width="0.7"/><line x1="80" y1="183.3" x2="83.2" y2="186.5" stroke-width="0.98"/><line x1="87.6" y1="190.9" x2="92.6" y2="195.9" stroke-width="0.98"/><line x1="79.2" y1="196.5" x2="83.2" y2="190.9" stroke-width="0.98"/><line x1="87.6" y1="186.5" x2="93.6" y2="181.7" stroke-width="0.98"/><path d="M94.6,186 L98.6,185.8 L99.8,188.6 L98.8,191.4 L95.4,192.6 L94.1,191.8 Z" stroke-width="2.38" fill="none" stroke-linejoin="round"/><path d="M82.7,196.8 L90.2,197.1 L83.3,209.3 Z" stroke-width="1.75" fill="none" stroke-linejoin="round"/><path d="M106.2,190.8 L108,197.8 L120.9,194.7 L118.2,189.3 Z" stroke-width="1.26" fill="#fff"/><circle cx="112" cy="188.8" r="6" stroke-width="1.68" fill="#fff"/><circle cx="112" cy="188.8" r="2.9" stroke-width="1.54" fill="none"/><circle cx="112" cy="188.8" r="1.3" stroke-width="0.56" fill="#aaa"/></g><g transform="rotate(180 124.2 227.1)"><circle cx="85.4" cy="188.7" r="2.7" stroke-width="1.26" fill="none"/><line x1="83.5" y1="186.8" x2="87.3" y2="190.6" stroke-width="0.7"/><line x1="83.5" y1="190.6" x2="87.3" y2="186.8" stroke-width="0.7"/><line x1="80" y1="183.3" x2="83.2" y2="186.5" stroke-width="0.98"/><line x1="87.6" y1="190.9" x2="92.6" y2="195.9" stroke-width="0.98"/><line x1="79.2" y1="196.5" x2="83.2" y2="190.9" stroke-width="0.98"/><line x1="87.6" y1="186.5" x2="93.6" y2="181.7" stroke-width="0.98"/><path d="M94.6,186 L98.6,185.8 L99.8,188.6 L98.8,191.4 L95.4,192.6 L94.1,191.8 Z" stroke-width="2.38" fill="none" stroke-linejoin="round"/><path d="M82.7,196.8 L90.2,197.1 L83.3,209.3 Z" stroke-width="1.75" fill="none" stroke-linejoin="round"/><path d="M106.2,190.8 L108,197.8 L120.9,194.7 L118.2,189.3 Z" stroke-width="1.26" fill="#fff"/><circle cx="112" cy="188.8" r="6" stroke-width="1.68" fill="#fff"/><circle cx="112" cy="188.8" r="2.9" stroke-width="1.54" fill="none"/><circle cx="112" cy="188.8" r="1.3" stroke-width="0.56" fill="#aaa"/></g><g transform="rotate(270 124.2 227.1)"><circle cx="85.4" cy="188.7" r="2.7" stroke-width="1.26" fill="none"/><line x1="83.5" y1="186.8" x2="87.3" y2="190.6" stroke-width="0.7"/><line x1="83.5" y1="190.6" x2="87.3" y2="186.8" stroke-width="0.7"/><line x1="80" y1="183.3" x2="83.2" y2="186.5" stroke-width="0.98"/><line x1="87.6" y1="190.9" x2="92.6" y2="195.9" stroke-width="0.98"/><line x1="79.2" y1="196.5" x2="83.2" y2="190.9" stroke-width="0.98"/><line x1="87.6" y1="186.5" x2="93.6" y2="181.7" stroke-width="0.98"/><path d="M94.6,186 L98.6,185.8 L99.8,188.6 L98.8,191.4 L95.4,192.6 L94.1,191.8 Z" stroke-width="2.38" fill="none" stroke-linejoin="round"/><path d="M82.7,196.8 L90.2,197.1 L83.3,209.3 Z" stroke-width="1.75" fill="none" stroke-linejoin="round"/><path d="M106.2,190.8 L108,197.8 L120.9,194.7 L118.2,189.3 Z" stroke-width="1.26" fill="#fff"/><circle cx="112" cy="188.8" r="6" stroke-width="1.68" fill="#fff"/><circle cx="112" cy="188.8" r="2.9" stroke-width="1.54" fill="none"/><circle cx="112" cy="188.8" r="1.3" stroke-width="0.56" fill="#aaa"/></g><path d="M97.2,215.2 L103,246.5 L108.2,250.9" stroke-width="1.12" fill="none"/><circle cx="124.2" cy="227.1" r="16.1" stroke-width="0.98" fill="#fff"/><circle cx="124.2" cy="227.1" r="14.7" stroke-width="0.84" fill="none"/><circle cx="124.2" cy="227.1" r="12.8" stroke-width="0.7" fill="none"/><circle cx="124.2" cy="227.1" r="10.6" stroke-width="1.75" fill="none"/><path d="M118.42,217.86 A10.9,10.9 0 0 1 132.3,219.81" stroke-width="2.66" fill="none"/><line x1="138.4" y1="227.1" x2="145.6" y2="227.1" stroke-width="2.94"/><line x1="145.6" y1="226.55" x2="152.6" y2="226.55" stroke-width="0.7"/><line x1="145.6" y1="227.65" x2="152.6" y2="227.65" stroke-width="0.7"/><line x1="106" y1="227.1" x2="110" y2="227.1" stroke-width="2.94"/><rect x="123.2" y="238.3" width="2" height="3.2" stroke-width="0.84" fill="none"/><line x1="38.8" y1="227.1" x2="50.1" y2="227.1" stroke-width="1.26"/><line x1="52.9" y1="227.1" x2="55.4" y2="227.1" stroke-width="1.26"/><line x1="58" y1="227.1" x2="109" y2="227.1" stroke-width="1.26"/><line x1="116.5" y1="227.1" x2="121.9" y2="227.1" stroke-width="1.26"/><line x1="124.5" y1="227.1" x2="131.5" y2="227.1" stroke-width="1.26"/><line x1="138.4" y1="227.1" x2="195.8" y2="227.1" stroke-width="1.26"/><line x1="124.2" y1="169.8" x2="124.2" y2="211" stroke-width="1.26"/><line x1="124.2" y1="216.5" x2="124.2" y2="222" stroke-width="1.26"/><line x1="124.2" y1="224.6" x2="124.2" y2="229.6" stroke-width="1.26"/><line x1="124.2" y1="232" x2="124.2" y2="238" stroke-width="1.26"/><line x1="124.2" y1="243" x2="124.2" y2="286.3" stroke-width="1.26"/><line x1="77.2" y1="159.5" x2="77.2" y2="180" stroke-width="1.12"/><line x1="171.1" y1="159.5" x2="171.1" y2="180" stroke-width="1.12"/><line x1="77.2" y1="162.6" x2="171.1" y2="162.6" stroke-width="0.98"/><path d="M77.2,162.6 L82.2,161.65 L82.2,163.55 Z" fill="#1a1a1a" stroke="none"/><path d="M171.1,162.6 L166.1,163.55 L166.1,161.65 Z" fill="#1a1a1a" stroke="none"/><rect x="115.5" y="155" width="5.3" height="5.3" stroke-width="0.84" fill="none"/><text transform="translate(122 160.5) scale(0.76 1)" font-size="8.4" text-anchor="start" fill="#1a1a1a" stroke="#1a1a1a" stroke-width="0.22">C7</text><path d="M172.99,178.31 A69,69 0 0 1 172.99,275.89" stroke-width="1.12" fill="none"/><line x1="155.2" y1="196.1" x2="174.7" y2="176.6" stroke-width="0.98"/><line x1="156.2" y1="259.1" x2="174.7" y2="277.6" stroke-width="0.98"/><path d="M172.99,178.31 L176.99,181.46 L175.55,182.71 Z" fill="#1a1a1a" stroke="none"/><path d="M172.99,275.89 L175.55,271.49 L176.99,272.74 Z" fill="#1a1a1a" stroke="none"/><path d="M193.2,226.9 L191.9,221.98 L193.8,221.85 Z" fill="#1a1a1a" stroke="none"/><path d="M193.2,227.3 L193.8,232.35 L191.9,232.22 Z" fill="#1a1a1a" stroke="none"/><text transform="translate(193 198.9) rotate(60) scale(0.798 1)" font-size="8.61" text-anchor="middle" fill="#1a1a1a" stroke="#1a1a1a" stroke-width="0.32" dy="2.9">45°</text><text transform="translate(182.8 251.5) rotate(-65) scale(0.798 1)" font-size="8.61" text-anchor="middle" fill="#1a1a1a" stroke="#1a1a1a" stroke-width="0.32" dy="2.9">45°</text><rect x="-5.6" y="-4.6" width="11.2" height="9.2" fill="#fff" stroke="none" transform="translate(155 246.6) rotate(35)"/><text transform="translate(155 246.6) rotate(35) scale(0.817 1)" font-size="10.71" text-anchor="middle" fill="#1a1a1a" stroke="#1a1a1a" stroke-width="0.4" dy="3.6">C1</text><line x1="147.4" y1="246.8" x2="158.2" y2="258.1" stroke-width="0.84"/><line x1="159.8" y1="266.6" x2="159.8" y2="298.8" stroke-width="0.98"/><line x1="166.1" y1="269" x2="166.1" y2="298.8" stroke-width="0.98"/><line x1="136.4" y1="296.3" x2="159.8" y2="296.3" stroke-width="0.98"/><path d="M159.8,296.3 L154.8,297.25 L154.8,295.35 Z" fill="#1a1a1a" stroke="none"/><line x1="166.1" y1="296.3" x2="177.5" y2="296.3" stroke-width="0.98"/><path d="M166.1,296.3 L171.1,295.35 L171.1,297.25 Z" fill="#1a1a1a" stroke="none"/><text transform="translate(143.2 294.4) scale(0.798 1)" font-size="8.61" text-anchor="middle" fill="#1a1a1a" stroke="#1a1a1a" stroke-width="0.22">C2</text></g>
<g transform="translate(0 323.8)"><line x1="252.5" y1="227.25" x2="306.4" y2="227.25" stroke-width="1.12"/><line x1="308.7" y1="227.25" x2="312.1" y2="227.25" stroke-width="1.12"/><line x1="315.8" y1="227.25" x2="584.6" y2="227.25" stroke-width="1.12" stroke-dasharray="24.5 2.6 3.2 2"/><line x1="256.7" y1="143.4" x2="256.7" y2="252" stroke-width="1.26"/><line x1="256.7" y1="145.5" x2="542" y2="145.5" stroke-width="0.98"/><path d="M256.7,145.5 L261.7,144.55 L261.7,146.45 Z" fill="#1a1a1a" stroke="none"/><path d="M542,145.5 L537,146.45 L537,144.55 Z" fill="#1a1a1a" stroke="none"/><text transform="translate(399.55 144) scale(0.665 1)" font-size="10.19" text-anchor="middle" fill="#1a1a1a" stroke="#1a1a1a" stroke-width="0.22">C9</text><line x1="256.7" y1="160.7" x2="308.4" y2="160.7" stroke-width="0.98"/><path d="M256.7,160.7 L261.7,159.75 L261.7,161.65 Z" fill="#1a1a1a" stroke="none"/><path d="M308.4,160.7 L303.4,161.65 L303.4,159.75 Z" fill="#1a1a1a" stroke="none"/><text transform="translate(283.9 159) scale(0.665 1)" font-size="10.19" text-anchor="middle" fill="#1a1a1a" stroke="#1a1a1a" stroke-width="0.22">33</text><line x1="308.4" y1="160.7" x2="495.2" y2="160.7" stroke-width="0.98"/><path d="M308.4,160.7 L313.4,159.75 L313.4,161.65 Z" fill="#1a1a1a" stroke="none"/><path d="M495.2,160.7 L490.2,161.65 L490.2,159.75 Z" fill="#1a1a1a" stroke="none"/><text transform="translate(403.45 159) scale(0.665 1)" font-size="10.19" text-anchor="middle" fill="#1a1a1a" stroke="#1a1a1a" stroke-width="0.22">C8</text><line x1="308.4" y1="158" x2="308.4" y2="292.6" stroke-width="1.54"/><line x1="495.2" y1="158.3" x2="495.2" y2="227" stroke-width="1.12"/><line x1="495.2" y1="229.8" x2="495.2" y2="280.9" stroke-width="1.19"/><line x1="495.2" y1="288.7" x2="495.2" y2="307.4" stroke-width="1.19"/><line x1="495.2" y1="311.3" x2="495.2" y2="345.5" stroke-width="1.19"/><line x1="495.2" y1="349" x2="495.2" y2="353" stroke-width="1.19"/><line x1="542" y1="142.6" x2="542" y2="348.4" stroke-width="1.12"/><line x1="226.1" y1="176.4" x2="308.4" y2="176.4" stroke-width="1.12"/><line x1="226.1" y1="278.1" x2="308.4" y2="278.1" stroke-width="1.12"/><line x1="227.9" y1="176.4" x2="227.9" y2="278.1" stroke-width="0.98"/><path d="M227.9,176.4 L228.85,181.4 L226.95,181.4 Z" fill="#1a1a1a" stroke="none"/><path d="M227.9,278.1 L226.95,273.1 L228.85,273.1 Z" fill="#1a1a1a" stroke="none"/><text transform="translate(226 228.1) rotate(-90) scale(0.798 1)" font-size="8.61" text-anchor="middle" fill="#1a1a1a" stroke="#1a1a1a" stroke-width="0.22">Ø65</text><line x1="240.6" y1="196" x2="307.5" y2="196" stroke-width="1.12"/><line x1="240.6" y1="258.6" x2="307.5" y2="258.6" stroke-width="1.12"/><line x1="242.7" y1="196" x2="242.7" y2="258.6" stroke-width="0.98"/><path d="M242.7,196 L243.65,201 L241.75,201 Z" fill="#1a1a1a" stroke="none"/><path d="M242.7,258.6 L241.75,253.6 L243.65,253.6 Z" fill="#1a1a1a" stroke="none"/><text transform="translate(240.8 237) rotate(-90) scale(0.76 1)" font-size="8.61" text-anchor="start" fill="#1a1a1a" stroke="#1a1a1a" stroke-width="0.22">Ø40<tspan font-size="6">h7</tspan></text><line x1="256.7" y1="189" x2="301.5" y2="189" stroke-width="0.98"/><path d="M256.7,189 L261.7,188.05 L261.7,189.95 Z" fill="#1a1a1a" stroke="none"/><path d="M301.5,189 L296.5,189.95 L296.5,188.05 Z" fill="#1a1a1a" stroke="none"/><text transform="translate(279.6 186) scale(0.836 1)" font-size="8.61" text-anchor="middle" fill="#1a1a1a" stroke="#1a1a1a" stroke-width="0.22">28,5</text><line x1="301.5" y1="186.9" x2="301.5" y2="273.3" stroke-width="1.12"/><line x1="245.2" y1="207.2" x2="256.7" y2="207.2" stroke-width="0.98"/><path d="M256.7,207.2 L251.7,208.15 L251.7,206.25 Z" fill="#1a1a1a" stroke="none"/><line x1="261.4" y1="207.2" x2="296" y2="207.2" stroke-width="0.98"/><path d="M261.4,207.2 L266.4,206.25 L266.4,208.15 Z" fill="#1a1a1a" stroke="none"/><path d="M296,207.2 L291,208.15 L291,206.25 Z" fill="#1a1a1a" stroke="none"/><line x1="256.7" y1="207.2" x2="261.4" y2="207.2" stroke-width="0.98"/><text transform="translate(259.6 205.3) scale(0.76 1)" font-size="8.61" text-anchor="middle" fill="#1a1a1a" stroke="#1a1a1a" stroke-width="0.22">3</text><text transform="translate(280.6 205.3) scale(0.76 1)" font-size="8.61" text-anchor="middle" fill="#1a1a1a" stroke="#1a1a1a" stroke-width="0.22">22</text><line x1="261.4" y1="203.7" x2="261.4" y2="216.3" stroke-width="1.26"/><line x1="296" y1="203.7" x2="296" y2="213.5" stroke-width="0.98"/><line x1="256.7" y1="249.8" x2="280.2" y2="249.8" stroke-width="0.98"/><path d="M256.7,249.8 L261.7,248.85 L261.7,250.75 Z" fill="#1a1a1a" stroke="none"/><path d="M280.2,249.8 L275.2,250.75 L275.2,248.85 Z" fill="#1a1a1a" stroke="none"/><text transform="translate(268.9 247.7) scale(0.798 1)" font-size="8.61" text-anchor="middle" fill="#1a1a1a" stroke="#1a1a1a" stroke-width="0.22">15</text><line x1="280.2" y1="228" x2="280.2" y2="252" stroke-width="0.98"/><line x1="278" y1="271.1" x2="301.5" y2="271.1" stroke-width="0.98"/><path d="M301.5,271.1 L296.5,272.05 L296.5,270.15 Z" fill="#1a1a1a" stroke="none"/><line x1="303.8" y1="271.1" x2="314.9" y2="271.1" stroke-width="0.98"/><path d="M303.8,271.1 L308.8,270.15 L308.8,272.05 Z" fill="#1a1a1a" stroke="none"/><text transform="translate(284.7 268.2) scale(0.76 1)" font-size="9.03" text-anchor="middle" fill="#1a1a1a" stroke="#1a1a1a" stroke-width="0.22">1,5</text><line x1="285.7" y1="290.7" x2="303.8" y2="290.7" stroke-width="0.98"/><path d="M303.8,290.7 L298.8,291.65 L298.8,289.75 Z" fill="#1a1a1a" stroke="none"/><line x1="308.4" y1="290.7" x2="320.2" y2="290.7" stroke-width="0.98"/><path d="M308.4,290.7 L313.4,289.75 L313.4,291.65 Z" fill="#1a1a1a" stroke="none"/><text transform="translate(289.3 288.5) scale(0.76 1)" font-size="8.61" text-anchor="middle" fill="#1a1a1a" stroke="#1a1a1a" stroke-width="0.22">3</text><line x1="303.8" y1="196" x2="303.8" y2="292.6" stroke-width="1.26"/><path d="M301.5,216.3 L256.7,216.3 M256.7,237.9 L301.5,237.9" stroke-width="1.26" fill="none"/><path d="M261.4,213.5 L296,213.5 L296,216.3" stroke-width="1.26" fill="none"/><line x1="265.4" y1="213.5" x2="265.4" y2="216.3" stroke-width="0.98"/><line x1="292.8" y1="213.5" x2="292.8" y2="216.3" stroke-width="0.98"/><line x1="257.9" y1="216.3" x2="257.9" y2="237.9" stroke-width="0.84"/><path d="M301.5,211.5 L303.8,211.5 M301.5,243 L303.8,243" stroke-width="0.98" fill="none"/><path d="M256.7,220.8 L259.3,222.3 L263.9,222.3 M256.7,233.8 L259.3,232.3 L263.9,232.3 M259.3,222.3 L259.3,232.3 M263.9,222.3 L263.9,232.3" stroke-width="1.12" fill="none"/><path d="M264.9,224.3 L271.9,224.3 M275.5,224.3 L281.4,224.3 L281.4,230.8 L275.5,230.8 M264.9,230.8 L271.9,230.8" stroke-width="1.96" fill="none"/><path d="M283.4,224.4 L285.6,227.25 L283.4,231 Z" stroke-width="1.4" fill="none"/><path d="M308.4,176.4 L326.7,176.4 L331,178.7 L346.9,178.7 L351.8,175.9 L453.9,175.9" stroke-width="1.26" fill="none"/><path d="M308.4,278.1 L326.7,278.1 L331,275.6 L346.9,275.6 L351.8,278.7 L445,278.7" stroke-width="1.26" fill="none"/><line x1="326.7" y1="176.4" x2="326.7" y2="278.1" stroke-width="1.12"/><line x1="331" y1="178.7" x2="331" y2="275.6" stroke-width="1.12"/><line x1="332.9" y1="178.7" x2="332.9" y2="275.6" stroke-width="1.12"/><line x1="346.9" y1="178.7" x2="346.9" y2="275.6" stroke-width="1.12"/><line x1="351.8" y1="175.9" x2="351.8" y2="278.7" stroke-width="1.12"/><line x1="371.8" y1="175.9" x2="371.8" y2="278.7" stroke-width="1.12"/><line x1="388.1" y1="175.9" x2="388.1" y2="278.7" stroke-width="0.98"/><path d="M388.1,175.9 L389.05,180.9 L387.15,180.9 Z" fill="#1a1a1a" stroke="none"/><path d="M388.1,278.7 L387.15,273.7 L389.05,273.7 Z" fill="#1a1a1a" stroke="none"/><text transform="translate(385.1 210.5) rotate(-90) scale(0.798 1)" font-size="9.03" text-anchor="middle" fill="#1a1a1a" stroke="#1a1a1a" stroke-width="0.22">Ø65,5</text><line x1="416.6" y1="175.9" x2="416.6" y2="278.7" stroke-width="1.96"/><line x1="445" y1="175.9" x2="445" y2="278.7" stroke-width="1.96"/><line x1="453.9" y1="175.9" x2="453.9" y2="262.1" stroke-width="1.12"/><line x1="453.9" y1="175.9" x2="458.4" y2="173.7" stroke-width="1.12"/><path d="M457.3,262.1 L458.4,173.7 L485.4,173.7" stroke-width="1.26" fill="none"/><line x1="485.4" y1="173.7" x2="597.9" y2="173.7" stroke-width="1.12"/><path d="M485.4,173.7 Q498.4,174.2 505.1,184 L542,237.3" stroke-width="1.4" fill="none"/><path d="M485.4,173.7 L506.3,224 Q506.5,230 509.3,234.5 L523.3,252.7" stroke-width="1.4" fill="none"/><path d="M507.7,230.5 Q508.2,234 511.4,238.3 L524.1,254.5" stroke-width="0.98" fill="none"/><path d="M522.6,210.6 C518.9,204 511.9,198.2 507.9,199 C504.5,200 506.4,203.5 510.9,206.5 C514.9,209 519.9,211.2 522.6,210.6 Z" stroke-width="1.26" fill="none"/><line x1="522.6" y1="210.6" x2="506.9" y2="222.8" stroke-width="2.1" stroke-linecap="round"/><line x1="506.9" y1="222.8" x2="541.4" y2="247.8" stroke-width="1.26"/><ellipse cx="532.2" cy="250.2" rx="7.1" ry="6.2" stroke-width="1.26" fill="#fff" transform="rotate(-20 532.2 250.2)"/><path d="M445,278.7 L446.5,270.5 L453.9,262.1 L457.8,262.1 L466.6,252.4 L523.3,253.1" stroke-width="1.26" fill="none"/><path d="M447.3,273.3 L448.1,271.6 L454.5,264 L458.6,264 L467.5,254.5 L524.1,254.5" stroke-width="0.98" fill="none"/><line x1="448.5" y1="272" x2="448.5" y2="315.1" stroke-width="1.26"/><line x1="448.5" y1="284.1" x2="542" y2="284.1" stroke-width="1.26"/><line x1="466.9" y1="253" x2="466.9" y2="315.1" stroke-width="1.82"/><line x1="523.5" y1="253" x2="523.5" y2="315.1" stroke-width="1.82"/><line x1="448.5" y1="314.9" x2="542" y2="314.9" stroke-width="1.26"/><path d="M448.4,348.3 L448.4,318.3 L449.3,317.0 L541.1,317.0 L542,318.3" stroke-width="1.26" fill="none"/><line x1="454.2" y1="317.2" x2="454.2" y2="348.4" stroke-width="1.12"/><line x1="536.1" y1="317.2" x2="536.1" y2="348.4" stroke-width="1.12"/><line x1="448.4" y1="348.3" x2="597.9" y2="348.3" stroke-width="1.26"/><path d="M484.3,348 L484.3,297.2 L506.2,297.2 L506.2,348" stroke-width="1.4" fill="none" stroke-dasharray="6.5 2.5"/><path d="M455.8,348.4 L455.8,340.3 L533.9,340.3 L533.9,348.4" stroke-width="1.4" fill="none" stroke-dasharray="6.5 2.5"/><line x1="484.3" y1="348" x2="484.3" y2="370" stroke-width="0.98"/><line x1="506.2" y1="348" x2="506.2" y2="370" stroke-width="0.98"/><line x1="455.8" y1="348" x2="455.8" y2="386" stroke-width="0.98"/><line x1="533.9" y1="348" x2="533.9" y2="386" stroke-width="0.98"/><line x1="484.3" y1="367.8" x2="506.2" y2="367.8" stroke-width="0.98"/><path d="M484.3,367.8 L489.3,366.85 L489.3,368.75 Z" fill="#1a1a1a" stroke="none"/><path d="M506.2,367.8 L501.2,368.75 L501.2,366.85 Z" fill="#1a1a1a" stroke="none"/><text transform="translate(487.5 366.3) scale(0.665 1)" font-size="10.19" text-anchor="start" fill="#1a1a1a" stroke="#1a1a1a" stroke-width="0.22">C3<tspan font-size="8">F7</tspan></text><line x1="455.8" y1="383.7" x2="533.9" y2="383.7" stroke-width="0.98"/><path d="M455.8,383.7 L460.8,382.75 L460.8,384.65 Z" fill="#1a1a1a" stroke="none"/><path d="M533.9,383.7 L528.9,384.65 L528.9,382.75 Z" fill="#1a1a1a" stroke="none"/><text transform="translate(487.1 382) scale(0.665 1)" font-size="10.19" text-anchor="start" fill="#1a1a1a" stroke="#1a1a1a" stroke-width="0.22">C5<tspan font-size="8">G7</tspan></text><circle cx="516.3" cy="330.2" r="8" stroke-width="1.26" fill="#fff"/><circle cx="516.3" cy="330.2" r="6.2" stroke-width="1.68" fill="none"/><circle cx="516.3" cy="330.2" r="3.8" stroke-width="1.4" fill="none"/><line x1="506.2" y1="297.2" x2="567.9" y2="297.2" stroke-width="0.98"/><line x1="565.7" y1="297.2" x2="565.7" y2="348.4" stroke-width="0.98"/><path d="M565.7,297.2 L566.65,302.2 L564.75,302.2 Z" fill="#1a1a1a" stroke="none"/><path d="M565.7,348.4 L564.75,343.4 L566.65,343.4 Z" fill="#1a1a1a" stroke="none"/><text transform="translate(564.3 323) rotate(-90) scale(0.665 1)" font-size="10.19" text-anchor="middle" fill="#1a1a1a" stroke="#1a1a1a" stroke-width="0.22">C4</text><line x1="499.4" y1="338.4" x2="554.1" y2="338.4" stroke-width="0.98"/><line x1="529.1" y1="329.4" x2="529.1" y2="338.4" stroke-width="0.98"/><path d="M529.1,338.4 L528.15,333.4 L530.05,333.4 Z" fill="#1a1a1a" stroke="none"/><line x1="529.1" y1="348.4" x2="529.1" y2="371" stroke-width="0.98"/><path d="M529.1,348.4 L530.05,353.4 L528.15,353.4 Z" fill="#1a1a1a" stroke="none"/><text transform="translate(527.9 365.4) rotate(-90) scale(0.665 1)" font-size="10.19" text-anchor="middle" fill="#1a1a1a" stroke="#1a1a1a" stroke-width="0.22">C6</text><line x1="551.9" y1="327.7" x2="551.9" y2="338.4" stroke-width="0.98"/><path d="M551.9,338.4 L550.95,333.4 L552.85,333.4 Z" fill="#1a1a1a" stroke="none"/><line x1="551.9" y1="348.4" x2="551.9" y2="375.3" stroke-width="0.98"/><path d="M551.9,348.4 L552.85,353.4 L550.95,353.4 Z" fill="#1a1a1a" stroke="none"/><text transform="translate(549.9 367.5) rotate(-90) scale(0.665 1)" font-size="10.19" text-anchor="middle" fill="#1a1a1a" stroke="#1a1a1a" stroke-width="0.22">C10</text><line x1="582.9" y1="227.25" x2="582.9" y2="348.4" stroke-width="0.98"/><path d="M582.9,227.25 L583.85,232.25 L581.95,232.25 Z" fill="#1a1a1a" stroke="none"/><path d="M582.9,348.4 L581.95,343.4 L583.85,343.4 Z" fill="#1a1a1a" stroke="none"/><text transform="translate(580.6 288) rotate(-90) scale(0.665 1)" font-size="10.19" text-anchor="middle" fill="#1a1a1a" stroke="#1a1a1a" stroke-width="0.22">C11</text><line x1="596.2" y1="173.7" x2="596.2" y2="348.4" stroke-width="0.98"/><path d="M596.2,173.7 L597.15,178.7 L595.25,178.7 Z" fill="#1a1a1a" stroke="none"/><path d="M596.2,348.4 L595.25,343.4 L597.15,343.4 Z" fill="#1a1a1a" stroke="none"/><text transform="translate(593.7 260.8) rotate(-90) scale(0.665 1)" font-size="10.19" text-anchor="middle" fill="#1a1a1a" stroke="#1a1a1a" stroke-width="0.22">C12</text></g>
<g transform="translate(4.4 323.8)"><line x1="624.2" y1="250" x2="624.2" y2="314.9" stroke-width="1.12"/><line x1="717.7" y1="250" x2="717.7" y2="314.9" stroke-width="1.12"/><line x1="642.9" y1="268" x2="642.9" y2="284.2" stroke-width="1.12"/><line x1="698.9" y1="268" x2="698.9" y2="284.2" stroke-width="1.12"/><line x1="642.9" y1="284.2" x2="642.9" y2="314.9" stroke-width="1.75"/><line x1="698.9" y1="284.2" x2="698.9" y2="314.9" stroke-width="1.75"/><line x1="624.2" y1="284.2" x2="717.7" y2="284.2" stroke-width="1.12"/><line x1="624.2" y1="314.9" x2="717.7" y2="314.9" stroke-width="1.12"/><path d="M623.8,348.1 L623.8,318.6 L625.4,316.6 L716.3,316.6 L717.9,318.6 L717.9,348.1 Z" stroke-width="1.26" fill="none"/><line x1="629.1" y1="316.6" x2="629.1" y2="348.1" stroke-width="1.12"/><line x1="713" y1="316.6" x2="713" y2="348.1" stroke-width="1.12"/><circle cx="670.9" cy="227.2" r="53.5" stroke-width="1.26" fill="#fff"/><circle cx="670.9" cy="227.2" r="51" stroke-width="1.54" fill="none"/><circle cx="670.9" cy="227.2" r="31.4" stroke-width="1.26" fill="none"/><circle cx="670.9" cy="227.2" r="28" stroke-width="1.26" fill="none"/><circle cx="670.9" cy="227.2" r="15.7" stroke-width="1.26" fill="none"/><circle cx="670.9" cy="227.2" r="10.4" stroke-width="1.26" fill="none"/><circle cx="670.9" cy="227.2" r="4.2" stroke-width="1.68" fill="none"/><circle cx="670.9" cy="227.2" r="2" stroke-width="0.98" fill="none"/><rect x="667" y="212.3" width="7.8" height="4" stroke-width="1.26" fill="none"/><path d="M-3.9,-2.4 L3.9,-2.4 L3.3,2.3 L-3.3,2.3 Z" transform="translate(670.9 204.8) rotate(0)" stroke-width="1.19"/><path d="M-3.9,-2.4 L3.9,-2.4 L3.3,2.3 L-3.3,2.3 Z" transform="translate(684.07 209.08) rotate(36)" stroke-width="1.19"/><path d="M-3.9,-2.4 L3.9,-2.4 L3.3,2.3 L-3.3,2.3 Z" transform="translate(692.2 220.28) rotate(72)" stroke-width="1.19"/><path d="M-3.9,-2.4 L3.9,-2.4 L3.3,2.3 L-3.3,2.3 Z" transform="translate(692.2 234.12) rotate(108)" stroke-width="1.19"/><path d="M-3.9,-2.4 L3.9,-2.4 L3.3,2.3 L-3.3,2.3 Z" transform="translate(684.07 245.32) rotate(144)" stroke-width="1.19"/><path d="M-3.9,-2.4 L3.9,-2.4 L3.3,2.3 L-3.3,2.3 Z" transform="translate(670.9 249.6) rotate(180)" stroke-width="1.19"/><path d="M-3.9,-2.4 L3.9,-2.4 L3.3,2.3 L-3.3,2.3 Z" transform="translate(657.73 245.32) rotate(216)" stroke-width="1.19"/><path d="M-3.9,-2.4 L3.9,-2.4 L3.3,2.3 L-3.3,2.3 Z" transform="translate(649.6 234.12) rotate(252)" stroke-width="1.19"/><path d="M-3.9,-2.4 L3.9,-2.4 L3.3,2.3 L-3.3,2.3 Z" transform="translate(649.6 220.28) rotate(288)" stroke-width="1.19"/><path d="M-3.9,-2.4 L3.9,-2.4 L3.3,2.3 L-3.3,2.3 Z" transform="translate(657.73 209.08) rotate(324)" stroke-width="1.19"/><circle cx="687.66" cy="186.73" r="5" stroke-width="1.12" fill="none"/><circle cx="687.66" cy="186.73" r="2.9" stroke-width="2.1" fill="none"/><circle cx="687.66" cy="186.73" r="1.2" stroke-width="0.7" fill="none"/><circle cx="711.37" cy="210.44" r="5" stroke-width="1.12" fill="none"/><circle cx="711.37" cy="210.44" r="2.9" stroke-width="2.1" fill="none"/><circle cx="711.37" cy="210.44" r="1.2" stroke-width="0.7" fill="none"/><circle cx="711.37" cy="243.96" r="5" stroke-width="1.12" fill="none"/><circle cx="711.37" cy="243.96" r="2.9" stroke-width="2.1" fill="none"/><circle cx="711.37" cy="243.96" r="1.2" stroke-width="0.7" fill="none"/><circle cx="687.66" cy="267.67" r="5" stroke-width="1.12" fill="none"/><circle cx="687.66" cy="267.67" r="2.9" stroke-width="2.1" fill="none"/><circle cx="687.66" cy="267.67" r="1.2" stroke-width="0.7" fill="none"/><circle cx="654.14" cy="267.67" r="5" stroke-width="1.12" fill="none"/><circle cx="654.14" cy="267.67" r="2.9" stroke-width="2.1" fill="none"/><circle cx="654.14" cy="267.67" r="1.2" stroke-width="0.7" fill="none"/><circle cx="630.43" cy="243.96" r="5" stroke-width="1.12" fill="none"/><circle cx="630.43" cy="243.96" r="2.9" stroke-width="2.1" fill="none"/><circle cx="630.43" cy="243.96" r="1.2" stroke-width="0.7" fill="none"/><circle cx="630.43" cy="210.44" r="5" stroke-width="1.12" fill="none"/><circle cx="630.43" cy="210.44" r="2.9" stroke-width="2.1" fill="none"/><circle cx="630.43" cy="210.44" r="1.2" stroke-width="0.7" fill="none"/><circle cx="654.14" cy="186.73" r="5" stroke-width="1.12" fill="none"/><circle cx="654.14" cy="186.73" r="2.9" stroke-width="2.1" fill="none"/><circle cx="654.14" cy="186.73" r="1.2" stroke-width="0.7" fill="none"/><circle cx="699.4" cy="198.7" r="3.4" stroke-width="1.12" fill="none"/><line x1="697.1" y1="196.4" x2="701.7" y2="201" stroke-width="0.84"/><line x1="697.1" y1="201" x2="701.7" y2="196.4" stroke-width="0.84"/><line x1="692.25" y1="205.85" x2="719.69" y2="178.41" stroke-width="1.12"/><line x1="704.2" y1="203.51" x2="694.59" y2="193.9" stroke-width="1.12"/><circle cx="699.4" cy="255.7" r="3.4" stroke-width="1.12" fill="none"/><line x1="697.1" y1="253.4" x2="701.7" y2="258" stroke-width="0.84"/><line x1="697.1" y1="258" x2="701.7" y2="253.4" stroke-width="0.84"/><line x1="692.25" y1="248.55" x2="719.69" y2="275.99" stroke-width="1.12"/><line x1="694.59" y1="260.5" x2="704.2" y2="250.89" stroke-width="1.12"/><circle cx="642.4" cy="255.7" r="3.4" stroke-width="1.12" fill="none"/><line x1="640.1" y1="253.4" x2="644.7" y2="258" stroke-width="0.84"/><line x1="640.1" y1="258" x2="644.7" y2="253.4" stroke-width="0.84"/><line x1="649.55" y1="248.55" x2="637.31" y2="260.79" stroke-width="1.12"/><line x1="637.6" y1="250.89" x2="647.21" y2="260.5" stroke-width="1.12"/><circle cx="642.4" cy="198.7" r="3.4" stroke-width="1.12" fill="none"/><line x1="640.1" y1="196.4" x2="644.7" y2="201" stroke-width="0.84"/><line x1="640.1" y1="201" x2="644.7" y2="196.4" stroke-width="0.84"/><line x1="649.55" y1="205.85" x2="637.31" y2="193.61" stroke-width="1.12"/><line x1="647.21" y1="193.9" x2="637.6" y2="203.51" stroke-width="1.12"/><line x1="609.3" y1="227.2" x2="739.8" y2="227.2" stroke-width="1.26"/><line x1="670.9" y1="172.6" x2="670.9" y2="355.4" stroke-width="1.26" stroke-dasharray="112.4 2.7 11.3 2.8 2.6 2.6 60"/><path d="M718.7,179.4 A67.6,67.6 0 0 1 718.7,275" stroke-width="1.12" fill="none"/><path d="M718.7,179.4 L722.7,182.55 L721.26,183.8 Z" fill="#1a1a1a" stroke="none"/><path d="M718.7,275 L721.26,270.6 L722.7,271.85 Z" fill="#1a1a1a" stroke="none"/><path d="M738.5,227 L737.2,222.08 L739.1,221.95 Z" fill="#1a1a1a" stroke="none"/><path d="M738.5,227.4 L739.1,232.45 L737.2,232.32 Z" fill="#1a1a1a" stroke="none"/><text transform="translate(736.6 197.4) rotate(60) scale(0.798 1)" font-size="8.61" text-anchor="middle" fill="#1a1a1a" stroke="#1a1a1a" stroke-width="0.32" dy="2.9">45°</text><text transform="translate(728 251.5) rotate(-65) scale(0.798 1)" font-size="8.61" text-anchor="middle" fill="#1a1a1a" stroke="#1a1a1a" stroke-width="0.32" dy="2.9">45°</text><text transform="translate(613.1 188.5) scale(0.812 1)" font-size="8.82" text-anchor="middle" fill="#1a1a1a" stroke="#1a1a1a" stroke-width="0.22">Ø52</text><path d="M606.3,190.4 L620.6,190.4 L635.6,201.2" stroke-width="0.98" fill="none"/><text transform="translate(673 163.6) scale(0.883 1)" font-size="7.98" text-anchor="middle" fill="#1a1a1a" stroke="#1a1a1a" stroke-width="0.22">4-M5x10</text><line x1="627.5" y1="166.1" x2="638.1" y2="166.1" stroke-width="0.98"/><path d="M638.1,166.1 L633.1,167.05 L633.1,165.15 Z" fill="#1a1a1a" stroke="none"/><line x1="646.1" y1="166.1" x2="688" y2="166.1" stroke-width="0.98"/><path d="M646.1,166.1 L651.1,165.15 L651.1,167.05 Z" fill="#1a1a1a" stroke="none"/><line x1="638.1" y1="163.4" x2="638.1" y2="196" stroke-width="0.98"/><line x1="646.1" y1="163.4" x2="646.1" y2="193" stroke-width="0.98"/></g>
</svg>
</body></html>
